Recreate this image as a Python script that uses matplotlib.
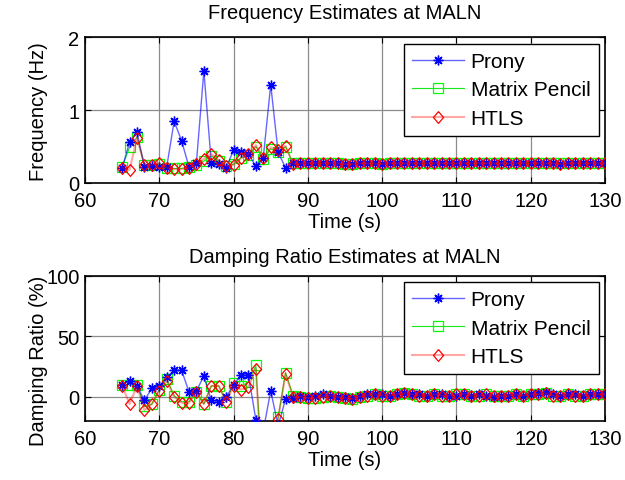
#Import Library
import matplotlib
matplotlib.use("Agg")
import matplotlib.pyplot as plt
import numpy as np

plt.rcParams['font.family'] = ['Liberation Sans', 'DejaVu Sans']

#Data: sampling time (s)
waktu = np.arange(65, 131)

#Frequency estimates (Hz), 65..130 s
freq_prony = [0.21, 0.56, 0.70, 0.22, 0.24, 0.22, 0.22, 0.85, 0.58, 0.22, 0.28, 1.54,
              0.28, 0.26, 0.21, 0.45, 0.42, 0.40, 0.23, 0.35, 1.35, 0.42, 0.21, 0.27,
              0.27, 0.27, 0.28, 0.27, 0.27, 0.27, 0.26, 0.26, 0.27, 0.27, 0.27, 0.26,
              0.27, 0.27, 0.27, 0.27, 0.27, 0.27, 0.28, 0.27, 0.27, 0.27, 0.27, 0.27,
              0.27, 0.27, 0.27, 0.27, 0.27, 0.27, 0.27, 0.27, 0.27, 0.27, 0.27, 0.26,
              0.27, 0.27, 0.27, 0.27, 0.27, 0.27]
freq_mp = [0.22, 0.49, 0.63, 0.25, 0.25, 0.26, 0.21, 0.20, 0.20, 0.22, 0.25, 0.30,
           0.37, 0.30, 0.23, 0.26, 0.35, 0.38, 0.50, 0.33, 0.47, 0.42, 0.50, 0.27,
           0.27, 0.27, 0.27, 0.27, 0.27, 0.27, 0.26, 0.26, 0.27, 0.27, 0.27, 0.26,
           0.27, 0.27, 0.27, 0.27, 0.27, 0.27, 0.27, 0.27, 0.27, 0.27, 0.27, 0.27,
           0.27, 0.27, 0.27, 0.27, 0.27, 0.27, 0.27, 0.27, 0.27, 0.27, 0.27, 0.27,
           0.27, 0.27, 0.27, 0.27, 0.27, 0.27]
freq_htls = [0.21, 0.18, 0.62, 0.25, 0.25, 0.27, 0.21, 0.19, 0.19, 0.21, 0.26, 0.33,
             0.40, 0.31, 0.23, 0.25, 0.34, 0.40, 0.52, 0.35, 0.49, 0.46, 0.51, 0.26,
             0.27, 0.27, 0.27, 0.27, 0.27, 0.27, 0.26, 0.26, 0.27, 0.27, 0.27, 0.26,
             0.27, 0.27, 0.27, 0.27, 0.27, 0.27, 0.27, 0.27, 0.27, 0.27, 0.27, 0.27,
             0.27, 0.27, 0.27, 0.27, 0.27, 0.27, 0.27, 0.27, 0.27, 0.27, 0.27, 0.26,
             0.27, 0.27, 0.27, 0.27, 0.27, 0.27]

#Damping ratio estimates (%), 65..130 s
damp_prony = [10, 13, 9, -3, 7, 9, 16, 22, 22, 4, 5, 17, -3, -4, 0, 10, 18, 18,
              -19, -28, 5, -24, -2, -1, 1, 0, 1, 2, 1, 0, 0, -1, 1, 2, 2, 2,
              1, 2, 3, 2, 2, 1, 2, 2, 1, 1, 2, 1, 2, 1, 0, 1, 1, 2, 1, 2,
              3, 4, 2, 1, 2, 2, 1, 2, 2, 2]
damp_mp = [10, 10, 10, -8, -6, 6, 15, 1, -4, -4, 4, -6, 9, 9, -4, 11, 9, 12,
           26, -80, -50, -17, 20, 1, 0, -1, -1, 0, 1, 0, -1, -2, 0, 1, 2, 1,
           1, 2, 3, 2, 1, 1, 2, 1, 1, 2, 2, 1, 1, 2, 1, 1, 1, 2, 1, 2,
           2, 3, 1, 1, 2, 1, 1, 2, 2, 2]
damp_htls = [9, -6, 9, -11, -6, 5, 13, 0, -5, -5, 4, -6, 9, 9, -4, 9, 6, 8,
             23, -80, -50, -18, 19, 0, 0, -1, -1, 0, 1, 0, -1, -2, 0, 1, 2, 1,
             1, 2, 3, 2, 1, 1, 2, 1, 1, 2, 2, 1, 1, 2, 1, 1, 1, 2, 1, 2,
             2, 3, 1, 1, 2, 1, 1, 2, 2, 2]

#Marker bentuk MATLAB
asterisk = (8, 2, 0)
diamond = [(0, 1), (0.85, 0), (0, -1), (-0.85, 0), (0, 1)]


def gambar(ax, prony, mp, htls, ylim, yticks, judul, ylabel, pad_judul, label_y):
    ax.plot(waktu, prony, color=(0, 0, 1, 0.6), lw=1.0, marker=asterisk, ms=7,
            mec='b', mew=1.0, label='Prony', zorder=3)
    ax.plot(waktu, mp, color=(0, 0.9, 0, 0.9), lw=0.8, marker='s', ms=6.8,
            mfc='none', mec=(0, 1, 0), mew=0.9, label='Matrix Pencil', zorder=2)
    ax.plot(waktu, htls, color=(1, 0, 0, 0.35), lw=1.5, marker=diamond, ms=8.5,
            mfc='none', mec='r', mew=0.9, label='HTLS', zorder=4)
    ax.set_xlim(60, 130)
    ax.set_ylim(*ylim)
    ax.set_xticks(range(60, 131, 10))
    ax.set_yticks(yticks)
    ax.grid(True, color='0.55', lw=0.9)
    ax.set_axisbelow(True)
    ax.tick_params(direction='in', top=True, right=True, length=4, labelsize=14.5)
    ax.tick_params(axis='x', pad=6)
    ax.tick_params(axis='y', pad=4)
    for s in ax.spines.values():
        s.set_linewidth(1.2)
    ax.set_title(judul, fontsize=14.5, pad=pad_judul)
    ax.set_xlabel('Time (s)', fontsize=14.5, labelpad=1)
    ax.set_ylabel(ylabel, fontsize=14.5)
    ax.yaxis.set_label_coords(-0.072, label_y)
    leg = ax.legend(loc='upper right', fontsize=15, fancybox=False, framealpha=1,
                    edgecolor='k', borderaxespad=0.3, handlelength=2.5,
                    handletextpad=0.3, labelspacing=0.45, borderpad=0.4)
    leg.get_frame().set_linewidth(1.0)


fig = plt.figure(figsize=(6.25, 4.81), dpi=100)
ax1 = fig.add_axes([0.136, 0.6175, 0.832, 0.3025])
ax2 = fig.add_axes([0.136, 0.1227, 0.832, 0.302])

gambar(ax1, freq_prony, freq_mp, freq_htls, (0, 2), [0, 1, 2],
       'Frequency Estimates at MALN', 'Frequency (Hz)', 14, 0.5)
gambar(ax2, damp_prony, damp_mp, damp_htls, (-20, 100), [0, 50, 100],
       'Damping Ratio Estimates at MALN', 'Damping Ratio (%)', 10, 0.42)

fig.savefig('out.png', dpi=100)
